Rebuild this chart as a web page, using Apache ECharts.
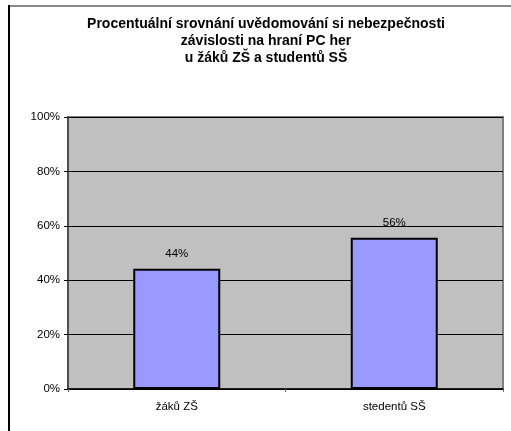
<!DOCTYPE html>
<html><head><meta charset="utf-8">
<script src="https://cdn.jsdelivr.net/npm/echarts@6/dist/echarts.min.js"></script>
<style>html,body{margin:0;padding:0;background:#fff}#c{width:511px;height:431px}</style>
</head><body><div id="c"></div>
<script>
const categories = ['žáků ZŠ', 'stedentů SŠ'];
const values = [44.2, 55.6];
const yTicks = [0, 20, 40, 60, 80, 100];
const titleLines = ['Procentuální srovnání uvědomování si nebezpečnosti', 'závislosti na hraní PC her', 'u žáků ZŠ a studentů SŠ'];

const FONT = 'Liberation Sans, Arial, sans-serif';
const chart = echarts.init(document.getElementById('c'));
chart.setOption({
  animation: false,
  backgroundColor: '#fff',
  textStyle: { fontFamily: FONT },
  title: {
    text: titleLines.join('\n'),
    left: 266, top: 15.5, padding: 0, textAlign: 'center',
    textStyle: { fontSize: 14, fontWeight: 'bold', color: '#000', lineHeight: 17, fontFamily: FONT }
  },
  graphic: [
    { type: 'line', shape: { x1: 9, y1: 6, x2: 520, y2: 6 }, style: { stroke: '#888', lineWidth: 2 } },
    { type: 'line', shape: { x1: 9, y1: 5, x2: 9, y2: 440 }, style: { stroke: '#000', lineWidth: 2 } }
  ],
  grid: { left: 68, right: 8, top: 117, bottom: 42, show: true, backgroundColor: '#C0C0C0', borderColor: '#808080', borderWidth: 2 },
  xAxis: {
    type: 'category', data: categories,
    axisLine: { lineStyle: { color: '#000', width: 1.5 } },
    axisTick: { show: true, length: 3, lineStyle: { color: '#666' } },
    axisLabel: { fontSize: 11.5, color: '#000', margin: 12, fontFamily: FONT }
  },
  yAxis: {
    type: 'value', min: 0, max: 100, interval: 20,
    axisLine: { show: true, lineStyle: { color: '#404040', width: 1.5 } },
    axisTick: { show: true, length: 4, lineStyle: { color: '#000' } },
    axisLabel: { fontSize: 11.5, color: '#000', margin: 8, formatter: v => yTicks.includes(v) ? v + '%' : '', fontFamily: FONT },
    splitLine: { show: true, lineStyle: { color: '#000', width: 1 } }
  },
  series: [{
    type: 'bar', data: values, barWidth: '40%',
    itemStyle: { color: '#9999FF', borderColor: '#000', borderWidth: 2 },
    label: { show: true, position: 'top', distance: 9, fontSize: 11.5, color: '#000', formatter: p => Math.round(p.value) + '%', fontFamily: FONT }
  }]
});
</script></body></html>
